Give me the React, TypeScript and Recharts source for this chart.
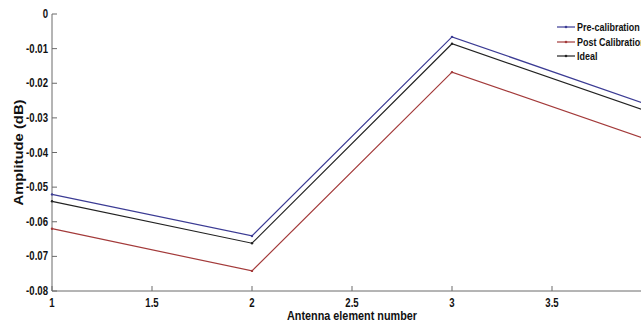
import { LineChart, Line, XAxis, YAxis, Label } from 'recharts';

const elements = [1, 2, 3, 4];
const preCalibration = [-0.0521, -0.0641, -0.0066, -0.0266];
const postCalibration = [-0.062, -0.0742, -0.0168, -0.0367];
const ideal = [-0.0541, -0.0662, -0.0086, -0.0286];

const xTicks = [1, 1.5, 2, 2.5, 3, 3.5];
const yTicks = [0, -0.01, -0.02, -0.03, -0.04, -0.05, -0.06, -0.07, -0.08];

const SERIES = [
  { key: 'pre', name: 'Pre-calibration', color: '#3b3b94' },
  { key: 'post', name: 'Post Calibration', color: '#a33a3a' },
  { key: 'ideal', name: 'Ideal', color: '#222222' },
];

const FONT = '"Liberation Sans", Arial, sans-serif';
const AXIS = '#6a6a6a';
const NARROW = 0.8; // fake a condensed face, no narrow font installed

const data = elements.map((x, i) => ({
  x,
  pre: preCalibration[i],
  post: postCalibration[i],
  ideal: ideal[i],
}));

const fmtY = (v: number) => (v === 0 ? '0' : v.toFixed(2));

function NarrowText({ x, y, anchor, size, children }: any) {
  return (
    <text
      transform={`translate(${x},${y}) scale(${NARROW},1)`}
      textAnchor={anchor}
      fontFamily={FONT}
      fontWeight="bold"
      fontSize={size}
      fill="#111"
    >
      {children}
    </text>
  );
}

function Title({ x, y, len, rotate, children }: any) {
  return (
    <text
      transform={`translate(${x},${y})${rotate ? ` rotate(${rotate})` : ''}`}
      textAnchor="middle"
      textLength={len}
      lengthAdjust="spacingAndGlyphs"
      fontFamily={FONT}
      fontWeight="bold"
      fontSize={13}
      fill="#111"
    >
      {children}
    </text>
  );
}

function YTick({ x, y, payload }: any) {
  return (
    <g>
      <line x1={x} x2={x + 5} y1={y} y2={y} stroke={AXIS} />
      <NarrowText x={x - 4} y={y + 4} anchor="end" size={12}>
        {fmtY(payload.value)}
      </NarrowText>
    </g>
  );
}

function XTick({ x, y, payload }: any) {
  return (
    <g>
      <line x1={x} x2={x} y1={y} y2={y - 5} stroke={AXIS} />
      <NarrowText x={x} y={y + 16} anchor="middle" size={12}>
        {payload.value}
      </NarrowText>
    </g>
  );
}

function TopTick({ x, y }: any) {
  return <line x1={x} x2={x} y1={y} y2={y + 5} stroke={AXIS} />;
}

// legend drawn outside the chart so it doesn't eat into the plot offsets
function LegendBox() {
  return (
    <div
      style={{
        position: 'absolute',
        left: 557,
        top: 20,
        whiteSpace: 'nowrap',
        fontFamily: FONT,
        fontWeight: 'bold',
        fontSize: 11.5,
        color: '#111',
      }}
    >
      {SERIES.map((s) => (
        <div key={s.key} style={{ display: 'flex', alignItems: 'center', height: 14.5 }}>
          <svg width={19} height={6} style={{ marginRight: 1 }}>
            <line x1={0} x2={18} y1={3} y2={3} stroke={s.color} strokeWidth={1.2} />
            <circle cx={9} cy={3} r={1.3} fill={s.color} />
          </svg>
          <span style={{ display: 'inline-block', transform: 'scaleX(0.78)', transformOrigin: 'left center' }}>
            {s.name}
          </span>
        </div>
      ))}
    </div>
  );
}

export default function App() {
  return (
    <div style={{ position: 'absolute', left: 0, top: 0, width: 641, height: 328, overflow: 'hidden', background: '#fff' }}>
      <LineChart width={660} height={328} data={data} margin={{ top: 14, right: 8, left: 0, bottom: 0 }}>
        <XAxis
          dataKey="x"
          type="number"
          domain={[1, 4]}
          ticks={xTicks}
          interval={0}
          height={37}
          stroke={AXIS}
          tickLine={false}
          tickSize={0}
          tickMargin={0}
          tick={<XTick />}
        >
          <Label
            content={({ viewBox }: any) => (
              <Title x={viewBox.x + viewBox.width / 2} y={320} len={130}>
                Antenna element number
              </Title>
            )}
          />
        </XAxis>
        <XAxis
          xAxisId="top"
          dataKey="x"
          type="number"
          orientation="top"
          domain={[1, 4]}
          ticks={xTicks}
          height={0}
          stroke={AXIS}
          tickLine={false}
          tickSize={0}
          tickMargin={0}
          tick={<TopTick />}
        />
        <YAxis
          type="number"
          domain={[-0.08, 0]}
          ticks={yTicks}
          interval={0}
          width={52}
          stroke={AXIS}
          tickLine={false}
          tickSize={0}
          tickMargin={0}
          tick={<YTick />}
        >
          <Label
            content={({ viewBox }: any) => (
              <Title x={23} y={viewBox.y + viewBox.height / 2} len={106} rotate={-90}>
                Amplitude (dB)
              </Title>
            )}
          />
        </YAxis>
        {SERIES.map((s) => (
          <Line
            key={s.key}
            dataKey={s.key}
            name={s.name}
            type="linear"
            stroke={s.color}
            strokeWidth={1.2}
            dot={{ r: 1.2, fill: s.color, stroke: s.color, strokeWidth: 0 }}
            isAnimationActive={false}
          />
        ))}
      </LineChart>
      <LegendBox />
    </div>
  );
}
